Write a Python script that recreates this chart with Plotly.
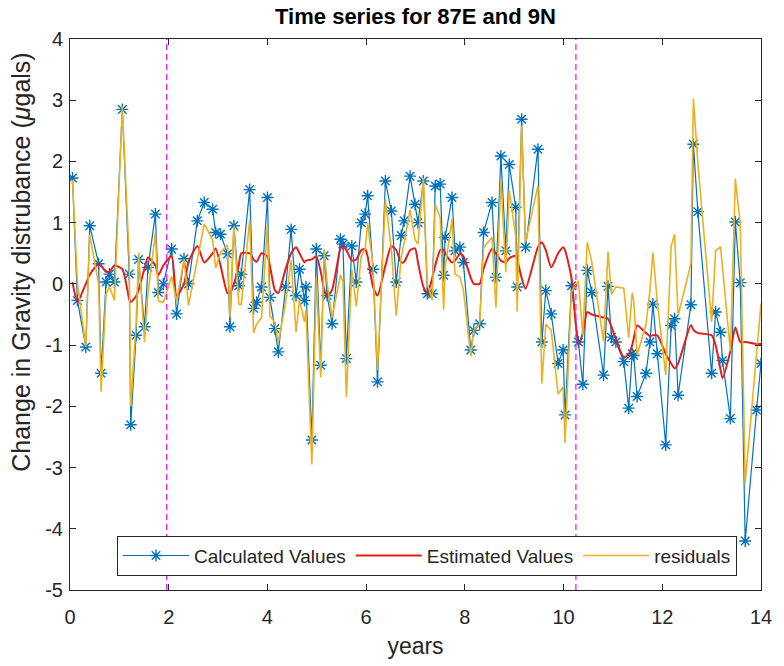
import plotly.graph_objects as go

# ---- data ----
years = [0.05, 0.15, 0.32, 0.40, 0.58, 0.63, 0.73, 0.80, 0.90, 1.06,
         1.20, 1.23, 1.34, 1.39, 1.51, 1.58, 1.73, 1.79, 1.89, 2.06,
         2.16, 2.31, 2.40, 2.58, 2.72, 2.89, 2.95, 3.05, 3.19, 3.24,
         3.32, 3.42, 3.47, 3.64, 3.72, 3.78, 3.88, 4.00, 4.05, 4.15,
         4.22, 4.37, 4.48, 4.58, 4.65, 4.75, 4.78, 4.90, 4.99, 5.08,
         5.15, 5.21, 5.31, 5.48, 5.53, 5.60, 5.71, 5.80, 5.90, 5.98,
         6.03, 6.14, 6.23, 6.39, 6.51, 6.61, 6.71, 6.77, 6.89, 6.99,
         7.05, 7.16, 7.24, 7.34, 7.40, 7.50, 7.57, 7.60, 7.74, 7.80,
         7.90, 7.97, 8.12, 8.18, 8.30, 8.38, 8.55, 8.63, 8.73, 8.83,
         8.90, 9.03, 9.06, 9.15, 9.23, 9.48, 9.56, 9.64, 9.75, 9.89,
         9.99, 10.03, 10.16, 10.30, 10.39, 10.48, 10.57, 10.81, 10.90, 10.97,
         11.06, 11.22, 11.32, 11.39, 11.42, 11.49, 11.67, 11.75, 11.81, 11.90,
         12.07, 12.18, 12.25, 12.32, 12.58, 12.63, 12.72, 13.00, 13.08, 13.18,
         13.22, 13.38, 13.48, 13.58, 13.68, 13.91, 14.00]

calculated = [1.73, -0.27, -1.03, 0.95, 0.33, -1.46, 0.03, 0.16, 0.03, 2.85,
              0.16, -2.30, -0.84, 0.40, -0.70, 0.27, 1.14, -0.14, 0.00, 0.57,
              -0.49, 0.41, 0.00, 1.03, 1.33, 1.22, 0.84, 0.81, 0.49, -0.70,
              0.95, -0.03, 0.16, 1.54, -0.40, -0.30, -0.05, 1.41, -0.22, -0.73,
              -1.11, -0.05, 0.89, -0.19, 0.24, -0.27, -0.05, -2.55, 0.57, -1.33,
              0.46, -0.19, -0.65, 0.73, 0.65, -1.22, 0.62, 0.03, 1.00, 1.14,
              1.44, 0.24, -1.60, 1.68, 1.19, 0.03, 0.79, 1.03, 1.76, 1.30,
              1.00, 1.68, -0.16, -0.16, 1.60, 1.63, 0.14, 0.76, 1.41, 0.54,
              0.60, 0.35, -1.08, -0.76, -0.65, 0.84, 1.33, 0.11, 2.09, 0.54,
              1.95, 1.25, -0.05, 2.69, 0.60, 2.20, -0.95, -0.11, -0.49, -1.30,
              -1.08, -2.14, -0.03, -0.95, -1.64, 0.22, -0.14, -1.49, -0.04, -0.87,
              -0.95, -1.27, -2.03, -1.14, -1.17, -1.84, -1.46, -0.95, -0.33, -1.14,
              -2.63, -0.68, -0.57, -1.82, -0.34, 2.28, 1.18, -1.46, -0.46, -0.79,
              -1.25, -2.20, 1.01, 0.02, -4.20, -2.06, -1.30]

estimated = [0.03, -0.29, 0.00, 0.15, 0.33, 0.30, 0.20, 0.20, 0.30, 0.24,
             -0.25, -0.30, -0.20, -0.10, 0.25, 0.43, 0.30, 0.14, 0.30, 0.45,
             -0.20, 0.00, 0.35, 0.62, 0.35, 0.50, 0.58, 0.30, -0.15, -0.15,
             0.00, 0.30, 0.50, 0.50, 0.40, 0.36, 0.50, 0.45, 0.30, -0.10,
             -0.15, 0.25, 0.50, 0.60, 0.50, 0.35, 0.38, 0.40, 0.45, 0.20,
             -0.10, -0.20, -0.10, 0.58, 0.62, 0.55, 0.38, 0.40, 0.55, 0.57,
             0.45, -0.05, -0.19, 0.30, 0.62, 0.55, 0.35, 0.36, 0.55, 0.58,
             0.35, -0.05, -0.16, 0.10, 0.30, 0.55, 0.56, 0.50, 0.35, 0.38,
             0.49, 0.45, 0.10, 0.00, 0.00, 0.25, 0.57, 0.50, 0.38, 0.35,
             0.42, 0.46, 0.40, 0.10, -0.08, 0.60, 0.68, 0.55, 0.27, 0.50,
             0.60, 0.55, 0.10, -1.00, -0.80, -0.46, -0.50, -0.55, -0.57, -0.70,
             -0.90, -1.20, -1.15, -1.00, -0.90, -0.68, -0.80, -0.85, -0.84, -0.84,
             -1.14, -1.30, -1.38, -1.30, -0.67, -0.75, -0.80, -0.84, -1.00, -1.40,
             -1.54, -1.10, -0.71, -0.95, -0.95, -0.98, -0.98]

residuals = [1.70, 0.02, -1.03, 0.80, 0.00, -1.76, -0.17, -0.04, -0.27, 2.90,
             0.41, -2.00, -0.64, 0.50, -0.95, -0.16, 0.84, -0.28, -0.30, 0.12,
             -0.29, 0.41, -0.35, 0.41, 0.98, 0.72, 0.26, 0.51, 0.64, -0.55,
             0.95, -0.33, -0.34, 1.04, -0.80, -0.66, -0.55, 0.96, -0.52, -0.63,
             -0.96, -0.30, 0.39, -0.79, -0.26, -0.62, -0.43, -2.95, 0.12, -1.53,
             0.56, 0.01, -0.55, 0.15, 0.03, -1.85, 0.24, -0.37, 0.45, 0.57,
             0.99, 0.29, -1.41, 1.38, 0.57, -0.52, 0.44, 0.67, 1.21, 0.72,
             0.65, 1.73, 0.00, -0.26, 1.30, 1.08, -0.42, 0.26, 1.06, 0.16,
             0.11, -0.10, -1.18, -0.76, -0.65, 0.59, 0.76, -0.39, 1.71, 0.19,
             1.53, 0.79, -0.45, 2.59, 0.68, 1.60, -1.63, -0.66, -0.76, -1.80,
             -1.68, -2.60, -0.13, 0.05, -0.84, 0.68, 0.36, -0.94, 0.53, -0.17,
             -0.05, -0.07, -0.88, -0.14, -0.27, -1.16, -0.66, -0.10, 0.51, -0.30,
             -1.49, 0.62, 0.81, -0.52, 0.33, 3.03, 1.98, -0.62, 0.54, 0.61,
             0.29, -1.10, 1.72, 0.97, -3.25, -1.08, -0.32]

break_years = [1.96, 10.25]

x_ticks = [0, 2, 4, 6, 8, 10, 12, 14]
y_ticks = [-5, -4, -3, -2, -1, 0, 1, 2, 3, 4]

FONT = "Liberation Sans, Arial, Helvetica, sans-serif"
AX = "#262626"

fig = go.Figure()
fig.add_trace(go.Scatter(
    x=years, y=calculated, mode="lines+markers", name="Calculated Values",
    line=dict(color="#0072BD", width=1.2),
    marker=dict(symbol="asterisk-open", size=10, color="#0072BD",
                line=dict(width=1.4, color="#0072BD"))))
fig.add_trace(go.Scatter(
    x=years, y=estimated, mode="lines", name="Estimated Values",
    line=dict(color="#E0201B", width=2, shape="spline", smoothing=0.6)))
fig.add_trace(go.Scatter(
    x=years, y=residuals, mode="lines", name="residuals",
    line=dict(color="#EDB120", width=1.6)))

for b in break_years:
    fig.add_vline(x=b, line=dict(color="#FF00FF", dash="6px,4px", width=1.2))

axis_common = dict(
    showline=True, linecolor=AX, linewidth=1, mirror="allticks",
    ticks="inside", ticklen=6, tickcolor=AX, tickwidth=1,
    showgrid=False, zeroline=False,
    tickfont=dict(family=FONT, size=20, color=AX),
)

fig.update_layout(
    width=784, height=666,
    margin=dict(l=70, r=13, t=39, b=73),
    paper_bgcolor="white", plot_bgcolor="white",
    font=dict(family=FONT, color=AX),
    title=dict(text="<b>Time series for 87E and 9N</b>", x=0.5, xref="paper",
               xanchor="center", y=1 - 16 / 666, yref="container", yanchor="middle",
               font=dict(family=FONT, size=22, color="black")),
    xaxis=dict(range=[0, 14], tickvals=x_ticks, ticktext=[str(v) for v in x_ticks],
               ticklabelstandoff=9,
               title=dict(text="years", font=dict(family=FONT, size=23, color=AX),
                          standoff=10),
               **axis_common),
    yaxis=dict(range=[-5, 4], tickvals=y_ticks, ticktext=[str(v) for v in y_ticks],
               ticklabelstandoff=2,
               **axis_common),
    legend=dict(orientation="h", x=0.068, xanchor="left", y=0.026, yanchor="bottom",
                bgcolor="white", bordercolor=AX, borderwidth=1,
                font=dict(family=FONT, size=19, color=AX), itemwidth=66,
                traceorder="normal"),
    showlegend=True,
    annotations=[dict(text="Change in Gravity distrubance (<i>μ</i>gals)",
                      textangle=-90, xref="paper", yref="paper",
                      x=-0.07, y=0.595, xanchor="center", yanchor="middle",
                      showarrow=False,
                      font=dict(family=FONT, size=25, color=AX))],
)

fig.write_html("out.html")
